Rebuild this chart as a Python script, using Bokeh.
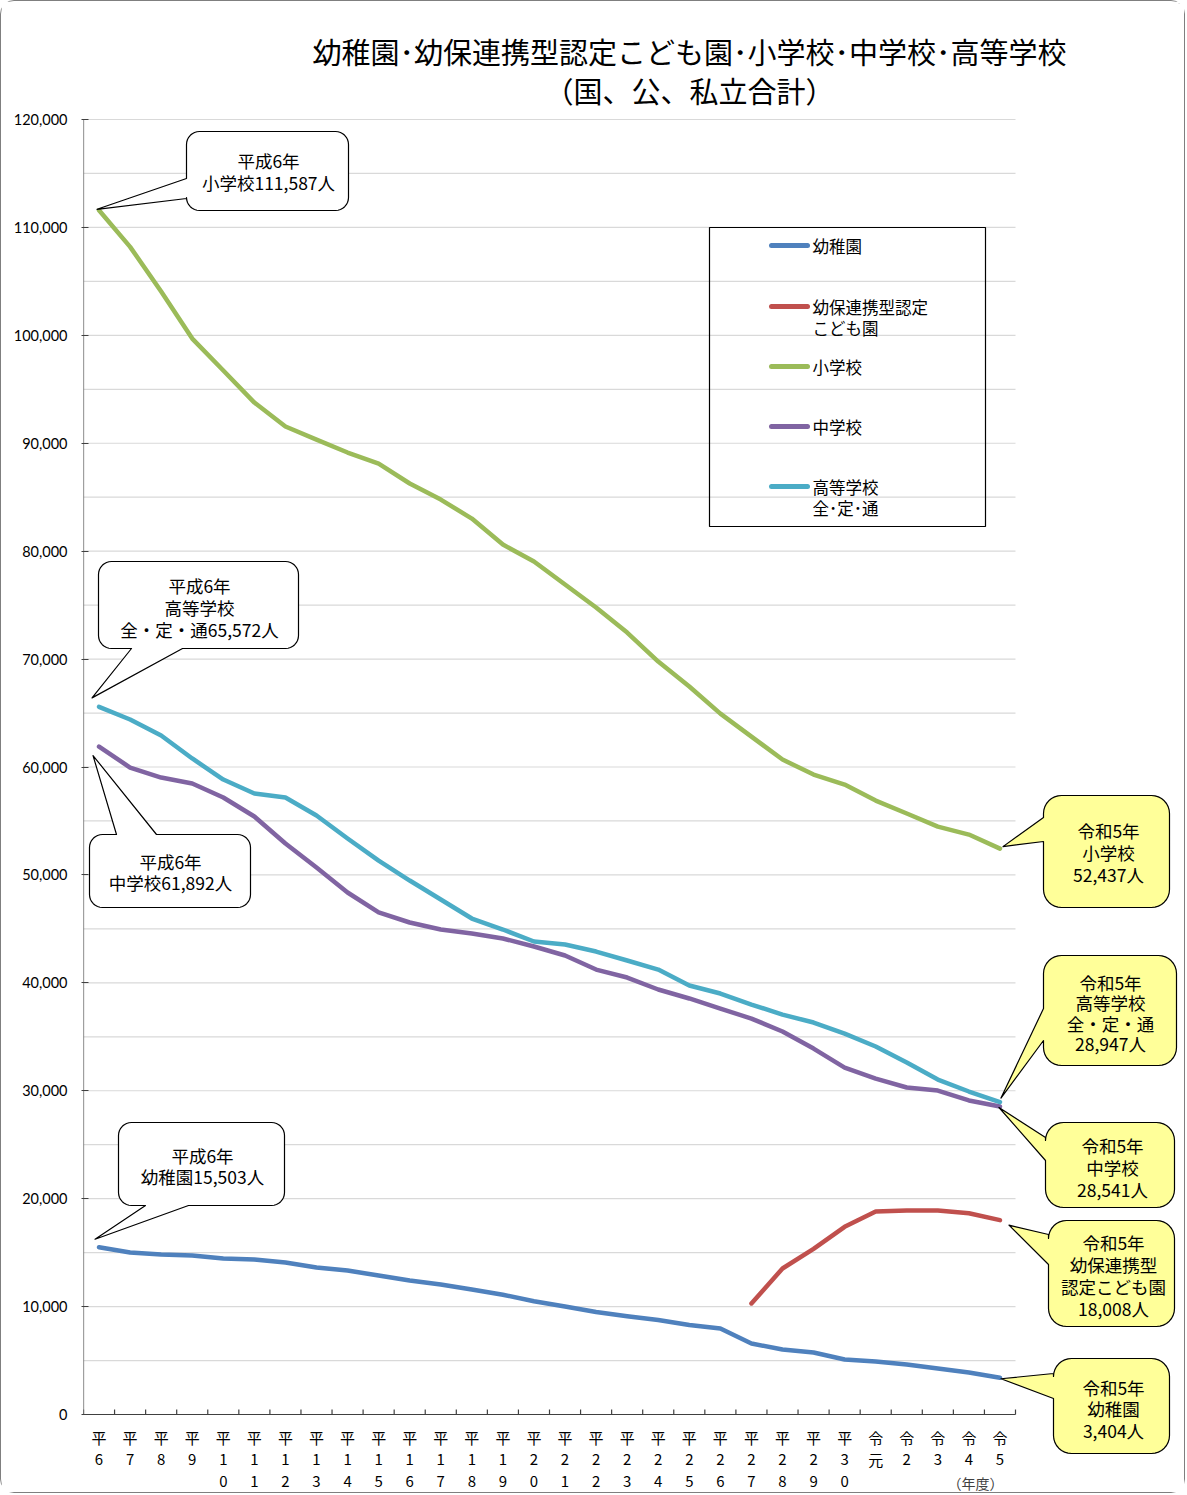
import math
from bokeh.plotting import figure
from bokeh.models import Range1d, FixedTicker, NumeralTickFormatter
from bokeh.core.properties import value
from bokeh.embed import file_html
from bokeh.resources import INLINE

# ---------------- data ----------------
years = ["平6", "平7", "平8", "平9", "平10", "平11", "平12", "平13", "平14", "平15",
         "平16", "平17", "平18", "平19", "平20", "平21", "平22", "平23", "平24", "平25",
         "平26", "平27", "平28", "平29", "平30", "令元", "令2", "令3", "令4", "令5"]

kindergarten = [15503, 15010, 14830, 14730, 14460, 14360, 14080, 13620, 13340, 12880,
                12420, 12050, 11580, 11100, 10500, 10000, 9500, 9100, 8750, 8300,
                7970, 6580, 6020, 5750, 5100, 4910, 4630, 4260, 3890, 3404]

nan = float("nan")
kodomoen = [nan] * 21 + [10290, 13530, 15340, 17390, 18810, 18900, 18900, 18650, 18008]

elementary = [111587, 108200, 104060, 99700, 96740, 93770, 91550, 90340, 89140, 88120,
              86270, 84780, 83020, 80610, 79040, 76910, 74780, 72460, 69770, 67460,
              64950, 62820, 60690, 59300, 58370, 56890, 55690, 54480, 53740, 52437]

junior_high = [61892, 59950, 59020, 58470, 57170, 55410, 52910, 50690, 48370, 46520,
               45590, 44940, 44570, 44110, 43370, 42530, 41230, 40490, 39380, 38550,
               37620, 36690, 35490, 33910, 32150, 31130, 30300, 30020, 29100, 28541]

high_school = [65572, 64400, 62920, 60790, 58840, 57540, 57170, 55500, 53370, 51330,
               49480, 47720, 45960, 44940, 43830, 43550, 42900, 42070, 41230, 39750,
               39010, 37990, 37060, 36320, 35300, 34100, 32620, 31040, 29930, 28947]

series_names = ["幼稚園", "幼保連携型認定\nこども園", "小学校", "中学校", "高等学校\n全･定･通"]
series_colors = ["#4f81bd", "#c0504d", "#9bbb59", "#8064a2", "#4bacc6"]

y_ticks = list(range(0, 120001, 10000))
grid_vals = list(range(5000, 120001, 5000))

JP = "Noto Sans CJK JP"

# --------------- page-pixel helpers (layout only) ---------------
O = 1                    # page offset of the canvas (border)
XS = 932 / 30            # px per category
YS = 120000 / 1295       # persons per px
def X(px):
    return -0.5 + (px - 83) / XS
def Y(py):
    return (1414 - py) * YS
def PX(x):
    return 83 + (x + 0.5) * XS
def PY(v):
    return 1414 - v / YS

W, H = 1185, 1493
p = figure(width=W, height=H,
           x_range=Range1d(X(83), X(O + W - 2)),
           y_range=Range1d(Y(O + H), Y(O + 2)),
           x_axis_location=None, toolbar_location=None, output_backend="svg",
           min_border_left=83 - O, min_border_right=2, min_border_top=2, min_border_bottom=0)
p.outline_line_color = None
p.grid.visible = False
p.background_fill_color = "white"
p.styles = {"border": "1px solid #7f7f7f", "border-radius": "14px"}

# y axis
ya = p.yaxis[0]
ya.ticker = FixedTicker(ticks=y_ticks)
ya.formatter = NumeralTickFormatter(format="0,0")
ya.axis_line_color = None
ya.major_tick_in = 5
ya.major_tick_out = 2
ya.major_tick_line_color = "#404040"
ya.minor_tick_line_color = None
ya.major_label_text_font = "Lato"
ya.major_label_text_font_size = "14.5px"
ya.major_label_text_color = "#000000"
ya.major_label_standoff = 14

n = len(years)
xs = list(range(n))

# gridlines
p.segment(x0=[-0.5] * len(grid_vals), x1=[n - 0.5] * len(grid_vals),
          y0=grid_vals, y1=grid_vals, line_color="#d9d9d9", line_width=1.2)

# axis lines
p.segment(x0=[-0.5, -0.5], y0=[0, 0], x1=[-0.5, n - 0.5], y1=[120000, 0],
          line_color="#404040", line_width=1.2)
bounds = [i - 0.5 for i in range(n + 1)]
p.segment(x0=bounds, x1=bounds, y0=[0] * len(bounds), y1=[5 * YS] * len(bounds),
          line_color="#404040", line_width=1.2)

# x labels (stacked characters)
row_y = [1437, 1459, 1481]
for i, lab in enumerate(years):
    for r, ch in enumerate(lab):
        p.text(x=[i], y=[Y(row_y[r])], text=[ch], text_font=value(JP),
               text_font_size="15px", text_align="center", text_baseline="middle",
               text_color="#000000")
p.text(x=[X(975)], y=[Y(1482)], text=["（年度）"], text_font=value(JP),
       text_font_size="14px", text_align="center", text_baseline="middle",
       text_color="#404040")
p.text(x=[X(56)], y=[Y(92)], text=["（人）"], text_font=value(JP),
       text_font_size="14px", text_align="center", text_baseline="middle",
       text_color="#595959")

# title
p.text(x=[X(689), X(689)], y=[Y(50), Y(89)],
       text=["幼稚園･幼保連携型認定こども園･小学校･中学校･高等学校", "（国、公、私立合計）"],
       text_font=value(JP), text_font_size="29px", text_align="center",
       text_baseline="middle", text_color="#000000")

# data lines
all_series = [kindergarten, kodomoen, elementary, junior_high, high_school]
for s, c in zip(all_series, series_colors):
    p.line(xs, s, line_color=c, line_width=4.5, line_join="round", line_cap="round")

# legend
p.quad(left=[X(709)], right=[X(985)], top=[Y(227)], bottom=[Y(526)],
       fill_color=None, line_color="black", line_width=1.2)
leg_y = [245, 306, 366, 426, 486]
for name, c, ly in zip(series_names, series_colors, leg_y):
    p.segment(x0=[X(771)], x1=[X(807)], y0=[Y(ly)], y1=[Y(ly)], line_color=c,
              line_width=5, line_cap="round")
    for k, t in enumerate(name.split("\n")):
        p.text(x=[X(812)], y=[Y(ly + 21 * k)], text=[t], text_font=value(JP),
               text_font_size="16.5px", text_align="left", text_baseline="middle",
               text_color="#000000")

# callouts
def arc(cx, cy, r, a0, a1, steps=8):
    out = []
    for k in range(steps + 1):
        t = math.radians(a0 + (a1 - a0) * k / steps)
        out.append((cx + r * math.cos(t), cy + r * math.sin(t)))
    return out

def callout(box, r, side, a1, a2, tip, fill, lines, cx, ys, fs="17.5px"):
    x0, y0, x1, y1 = box
    pts = [(x0 + r, y0)]
    if side == "top":
        pts += [(a1, y0), tip, (a2, y0)]
    pts += [(x1 - r, y0)]
    pts += arc(x1 - r, y0 + r, r, -90, 0)
    if side == "right":
        pts += [(x1, a1), tip, (x1, a2)]
    pts += arc(x1 - r, y1 - r, r, 0, 90)
    if side == "bottom":
        pts += [(a2, y1), tip, (a1, y1)]
    pts += arc(x0 + r, y1 - r, r, 90, 180)
    if side == "left":
        pts += [(x0, a2), tip, (x0, a1)]
    pts += arc(x0 + r, y0 + r, r, 180, 270)
    p.patch([X(a) for a, b in pts], [Y(b) for a, b in pts], fill_color=fill,
            line_color="black", line_width=1.2, line_join="round")
    p.text(x=[X(cx)] * len(lines), y=[Y(v) for v in ys], text=lines,
           text_font=value(JP), text_font_size=fs, text_align="center",
           text_baseline="middle", text_color="#000000")

last = n - 1
# left (平成6年) callouts - white
callout((186, 131, 348, 210), 13, "left", 178, 198,
        (PX(0) - 2, PY(elementary[0]) - 1), "white",
        ["平成6年", "小学校111,587人"], 268, [160, 182])
callout((98, 561, 298, 648), 13, "bottom", 131, 182,
        (PX(0) - 7, PY(high_school[0]) - 9), "white",
        ["平成6年", "高等学校", "全・定・通65,572人"], 199, [585, 607, 629])
callout((89, 834, 250, 907), 13, "top", 116, 156,
        (PX(0) - 6, PY(junior_high[0]) + 9), "white",
        ["平成6年", "中学校61,892人"], 170, [861, 882])
callout((118, 1122, 284, 1205), 13, "bottom", 145, 188,
        (PX(0) - 4, PY(kindergarten[0]) - 8), "white",
        ["平成6年", "幼稚園15,503人"], 202, [1155, 1176])

# right (令和5年) callouts - yellow
Yel = "#ffff99"
callout((1043, 795, 1169, 907), 18, "left", 817, 841,
        (PX(last) + 3, PY(elementary[last]) - 2), Yel,
        ["令和5年", "小学校", "52,437人"], 1108, [830, 852, 874])
callout((1043, 955, 1176, 1065), 18, "left", 1008, 1040,
        (PX(last) + 1, PY(high_school[last]) - 4), Yel,
        ["令和5年", "高等学校", "全・定・通", "28,947人"], 1110, [982, 1002, 1023, 1043])
callout((1045, 1122, 1174, 1207), 18, "left", 1137, 1160,
        (PX(last) - 1, PY(junior_high[last]) + 1), Yel,
        ["令和5年", "中学校", "28,541人"], 1112, [1145, 1167, 1189])
callout((1048, 1220, 1174, 1326), 18, "left", 1234, 1264,
        (PX(last) + 9, PY(kodomoen[last]) + 5), Yel,
        ["令和5年", "幼保連携型", "認定こども園", "18,008人"], 1113, [1242, 1264, 1286, 1308])
callout((1053, 1358, 1169, 1453), 18, "left", 1373, 1398,
        (PX(last) + 1, PY(kindergarten[last]) + 1), Yel,
        ["令和5年", "幼稚園", "3,404人"], 1113, [1387, 1408, 1430])

open("out.html", "w").write(file_html(p, INLINE))
